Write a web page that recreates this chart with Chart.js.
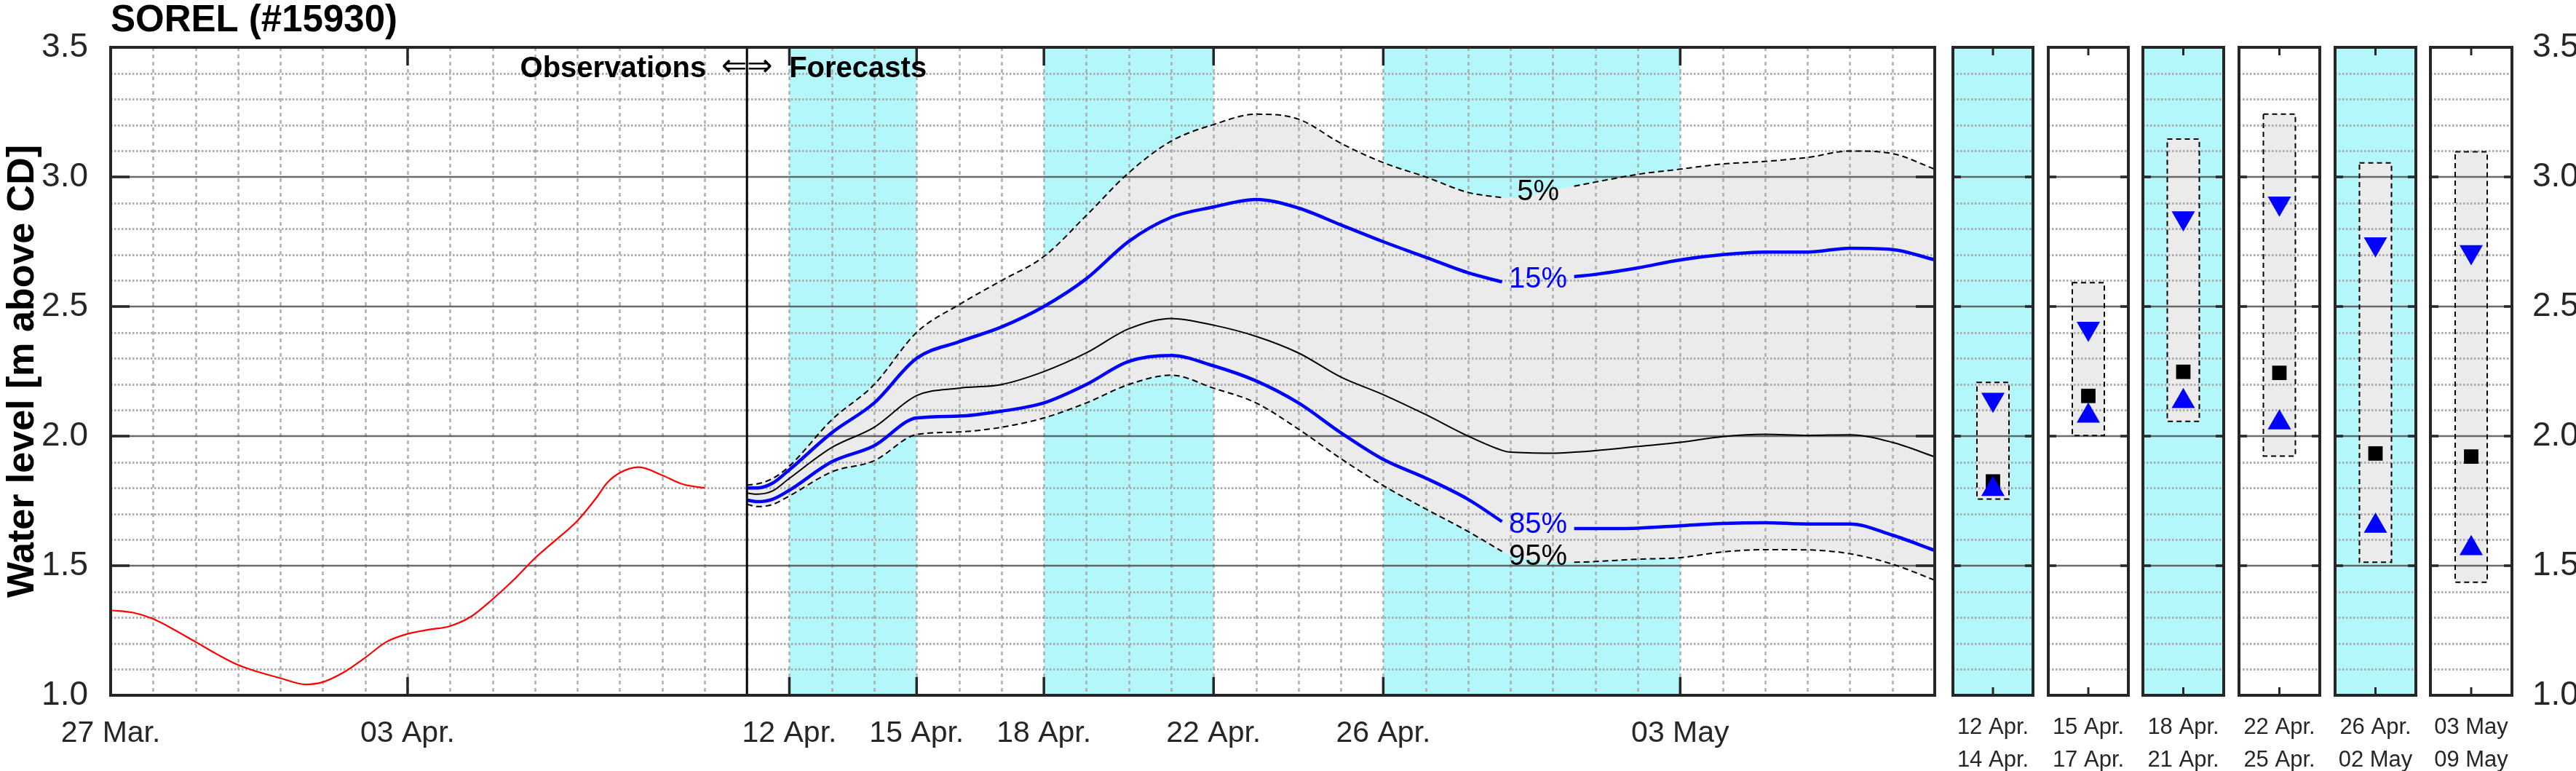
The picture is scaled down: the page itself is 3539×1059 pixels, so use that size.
<!DOCTYPE html>
<html>
<head>
<meta charset="utf-8">
<script src="https://cdn.jsdelivr.net/npm/chart.js@4.4.1/dist/chart.umd.min.js"></script>
<style>
html,body{margin:0;padding:0;background:#fff;}
#wrap{position:relative;width:3539px;height:1059px;overflow:hidden;background:#fff;}
#wrap canvas{position:absolute;left:0;top:0;}
</style>
</head>
<body>
<div id="wrap">
<canvas id="main" width="3539" height="1059"></canvas>
<canvas id="p0" width="3539" height="1059"></canvas>
<canvas id="p1" width="3539" height="1059"></canvas>
<canvas id="p2" width="3539" height="1059"></canvas>
<canvas id="p3" width="3539" height="1059"></canvas>
<canvas id="p4" width="3539" height="1059"></canvas>
<canvas id="p5" width="3539" height="1059"></canvas>
</div>
<script>
// ---------------- DATA ----------------
const stationTitle = 'SOREL (#15930)';
const yAxisTitle = 'Water level [m above CD]';
const obsText = 'Observations';
const arrowText = '\u21D0\u21D2';
const fcText = 'Forecasts';

// x axis: days since 27 Mar.
const tickDays   = [0, 7, 16, 19, 22, 26, 30, 37];
const tickLabels = ['27 Mar.', '03 Apr.', '12 Apr.', '15 Apr.', '18 Apr.', '22 Apr.', '26 Apr.', '03 May'];
const dayMin = 0, dayMax = 43;
const forecastStartDay = 15;
const cyanBands = [[16, 19], [22, 26], [30, 37]];

// observations (red)
const obsDays   = [0,0.55,1,1.5,2,2.5,3,3.5,4,4.6,5,5.5,6,6.5,7,7.5,8,8.5,9,9.5,10,10.5,11,11.45,11.7,12,12.45,13,13.5,14];
const obsLevels = [1.328,1.318,1.295,1.253,1.206,1.159,1.117,1.089,1.066,1.042,1.051,1.089,1.145,1.206,1.237,1.253,1.267,1.304,1.370,1.445,1.529,1.600,1.673,1.762,1.819,1.858,1.880,1.849,1.814,1.800];

// forecast percentiles
const fcDays = [15,15.25,15.6,16,17,18,19,20,21,22,23,24,25,26,27,28,29,30,31,32,32.8,33,34,34.5,35,36,37,38,39,40,41,42,43];
const fc05 = [1.811,1.816,1.836,1.884,2.063,2.199,2.40,2.507,2.60,2.693,2.851,3.016,3.138,3.202,3.242,3.223,3.13,3.055,3.0,2.94,2.92,2.918,2.95,2.964,2.98,3.01,3.03,3.05,3.06,3.075,3.10,3.09,3.03];
const fc15 = [1.80,1.80,1.818,1.87,2.013,2.128,2.30,2.364,2.421,2.50,2.607,2.751,2.844,2.884,2.913,2.88,2.815,2.75,2.69,2.63,2.595,2.59,2.605,2.615,2.624,2.649,2.68,2.70,2.71,2.71,2.725,2.72,2.68];
const fc50 = [1.78,1.776,1.788,1.837,1.956,2.034,2.156,2.185,2.199,2.249,2.321,2.414,2.454,2.428,2.385,2.321,2.228,2.16,2.083,2.00,1.945,1.938,1.934,1.938,1.944,1.96,1.976,1.998,2.007,2.003,2.005,1.976,1.92];
const fc85 = [1.753,1.747,1.756,1.791,1.901,1.963,2.07,2.077,2.096,2.128,2.199,2.288,2.311,2.271,2.213,2.128,2.013,1.91,1.838,1.756,1.67,1.662,1.646,1.643,1.643,1.645,1.654,1.663,1.666,1.661,1.661,1.618,1.559];
const fc95 = [1.737,1.728,1.736,1.769,1.862,1.905,2.006,2.016,2.034,2.07,2.128,2.199,2.235,2.185,2.128,2.027,1.913,1.809,1.719,1.632,1.555,1.543,1.514,1.513,1.516,1.525,1.531,1.553,1.562,1.561,1.546,1.506,1.444];
// inline percentile labels: line gap (days)
const labelGap = [32.8, 34.5];
const pctNames = ['5%', '15%', '85%', '95%'];

// period summary panels
const panelLabels = [['12 Apr.','14 Apr.'],['15 Apr.','17 Apr.'],['18 Apr.','21 Apr.'],['22 Apr.','25 Apr.'],['26 Apr.','02 May'],['03 May','09 May']];
const panelCyan = [true, false, true, false, true, false];
const pan05 = [2.207,2.592,3.146,3.242,3.054,3.097];
const pan15 = [2.141,2.415,2.841,2.898,2.741,2.711];
const pan50 = [1.825,2.155,2.248,2.244,1.933,1.921];
const pan85 = [1.795,2.078,2.134,2.052,1.653,1.567];
const pan95 = [1.757,2.002,2.057,1.923,1.513,1.436];

const yMin = 1.0, yMax = 3.5;

// ---------------- STYLE / LAYOUT ----------------
const W = 3539, H = 1059;
const PLOT_TOP = 65, PLOT_BOTTOM = 955, MAIN_LEFT = 152, MAIN_RIGHT = 2658;
const PANEL_LEFT  = [2683, 2814, 2944, 3076, 3208, 3339];
const PANEL_RIGHT = [2793, 2924, 3055, 3187, 3319, 3451];
const CYAN = 'rgb(179,247,250)';
const FILLGRAY = '#ebebeb';
const AXIS = '#262626';
const BLUE = '#0000ff';
const FONT = "'Liberation Sans', Arial, Helvetica, sans-serif";

function seg(ctx, x0, y0, x1, y1) { ctx.beginPath(); ctx.moveTo(x0, y0); ctx.lineTo(x1, y1); ctx.stroke(); }

function drawGrid(chart, withVertical) {
  const {ctx, chartArea: a, scales} = chart;
  const y = scales.y;
  ctx.save();
  ctx.beginPath(); ctx.rect(a.left, a.top, a.right - a.left, a.bottom - a.top); ctx.clip();
  ctx.strokeStyle = 'rgba(165,165,165,0.9)';
  if (withVertical) {
    const x = scales.x;
    ctx.lineWidth = 2.5; ctx.setLineDash([5, 5]);
    for (let d = x.min + 1; d < x.max; d++) {
      const px = Math.round(x.getPixelForValue(d)) + 0.5;
      seg(ctx, px, a.top, px, a.bottom);
    }
  }
  ctx.lineWidth = 3; ctx.setLineDash([2.5, 2.5]);
  for (let k = 11; k < 35; k++) {
    if (k % 5 === 0) continue;
    const py = Math.round(y.getPixelForValue(k / 10)) + 0.5;
    seg(ctx, a.left, py, a.right, py);
  }
  ctx.setLineDash([]);
  ctx.strokeStyle = 'rgba(70,70,70,0.8)'; ctx.lineWidth = 2.5;
  for (let k = 15; k < 35; k += 5) {
    const py = Math.round(y.getPixelForValue(k / 10));
    seg(ctx, a.left, py, a.right, py);
  }
  ctx.restore();
}

function drawBoxAndYTicks(chart, tickLen) {
  const {ctx, chartArea: a, scales: {y}} = chart;
  ctx.save();
  ctx.strokeStyle = AXIS; ctx.lineWidth = 3.5;
  for (let k = 15; k < 35; k += 5) {
    const py = y.getPixelForValue(k / 10);
    seg(ctx, a.left, py, a.left + tickLen, py);
    seg(ctx, a.right - tickLen, py, a.right, py);
  }
  ctx.lineWidth = 4;
  ctx.strokeRect(a.left, a.top, a.right - a.left, a.bottom - a.top);
  ctx.restore();
}

function pts(days, vals, gap) {
  return days.map((d, i) => ({x: d, y: (gap && d > labelGap[0] && d < labelGap[1]) ? null : vals[i]}));
}

// ---------------- MAIN CHART ----------------
const mainDeco = {
  id: 'mainDeco',
  beforeDatasetsDraw(chart) {
    const {ctx, chartArea: a, scales: {x}} = chart;
    ctx.save();
    ctx.fillStyle = CYAN;
    for (const [d0, d1] of cyanBands) {
      const x0 = x.getPixelForValue(d0), x1 = x.getPixelForValue(d1);
      ctx.fillRect(x0, a.top, x1 - x0, a.bottom - a.top);
    }
    ctx.restore();
  },
  afterDatasetDraw(chart, args) {
    if (args.index === 0) drawGrid(chart, true);
  },
  afterDatasetsDraw(chart) {
    const {ctx, chartArea: a, scales: {x, y}} = chart;
    ctx.save();
    const xb = x.getPixelForValue(forecastStartDay);
    ctx.strokeStyle = '#000'; ctx.lineWidth = 3;
    seg(ctx, xb, a.top, xb, a.bottom);
    ctx.strokeStyle = AXIS; ctx.lineWidth = 3.5;
    tickDays.forEach(d => {
      const px = x.getPixelForValue(d);
      seg(ctx, px, a.top, px, a.top + 25);
      seg(ctx, px, a.bottom - 25, px, a.bottom);
    });
    ctx.restore();
    drawBoxAndYTicks(chart, 26);

    ctx.save();
    const series = [fc05, fc15, fc85, fc95];
    const colors = ['#000', BLUE, BLUE, '#000'];
    const i0 = fcDays.indexOf(labelGap[0]), i1 = fcDays.indexOf(labelGap[1]);
    const lx = x.getPixelForValue((labelGap[0] + labelGap[1]) / 2);
    ctx.font = `40px ${FONT}`; ctx.textAlign = 'center'; ctx.textBaseline = 'middle';
    series.forEach((s, k) => {
      const ly = y.getPixelForValue((s[i0] + s[i1]) / 2);
      ctx.fillStyle = colors[k];
      ctx.fillText(pctNames[k], lx, ly);
    });
    ctx.fillStyle = '#000'; ctx.textBaseline = 'alphabetic';
    ctx.font = `bold 40px ${FONT}`;
    ctx.textAlign = 'right'; ctx.fillText(obsText, xb - 56, 106);
    ctx.textAlign = 'left'; ctx.fillText(fcText, xb + 58, 106);
    ctx.font = `42px 'DejaVu Sans', ${FONT}`;
    ctx.textAlign = 'center'; ctx.fillText(arrowText, xb, 104);
    ctx.font = `bold 51px ${FONT}`; ctx.textAlign = 'left';
    ctx.fillText(stationTitle, a.left, 43);
    ctx.restore();
  }
};

const lineBase = {pointRadius: 0, fill: false, cubicInterpolationMode: 'monotone'};
new Chart(document.getElementById('main'), {
  type: 'line',
  data: {datasets: [
    {...lineBase, label: 'band', data: pts(fcDays, fc05), borderColor: 'rgba(0,0,0,0)', backgroundColor: FILLGRAY, fill: '+1', order: 11},
    {...lineBase, label: 'bandLow', data: pts(fcDays, fc95), borderColor: 'rgba(0,0,0,0)', order: 12},
    {...lineBase, label: 'Observations', data: pts(obsDays, obsLevels), borderColor: '#ff0000', borderWidth: 2.2, order: 5},
    {...lineBase, label: '5%', data: pts(fcDays, fc05, true), borderColor: '#000', borderWidth: 2, borderDash: [8, 5], order: 4},
    {...lineBase, label: '95%', data: pts(fcDays, fc95, true), borderColor: '#000', borderWidth: 2, borderDash: [8, 5], order: 4},
    {...lineBase, label: '50%', data: pts(fcDays, fc50), borderColor: '#000', borderWidth: 2, order: 3},
    {...lineBase, label: '15%', data: pts(fcDays, fc15, true), borderColor: BLUE, borderWidth: 4.5, order: 1},
    {...lineBase, label: '85%', data: pts(fcDays, fc85, true), borderColor: BLUE, borderWidth: 4.5, order: 1}
  ]},
  options: {
    responsive: false, animation: false, devicePixelRatio: 1,
    layout: {padding: {left: 0, right: W - MAIN_RIGHT, top: PLOT_TOP, bottom: 0}},
    plugins: {legend: {display: false}, tooltip: {enabled: false}},
    scales: {
      x: {
        type: 'linear', min: dayMin, max: dayMax,
        grid: {display: false}, border: {display: false},
        afterBuildTicks: s => { s.ticks = tickDays.map(v => ({value: v})); },
        afterFit: s => { s.height = H - PLOT_BOTTOM; },
        ticks: {autoSkip: false, maxRotation: 0, minRotation: 0, padding: 20, color: AXIS,
                font: {family: FONT, size: 41}, callback: (v, i) => tickLabels[i]}
      },
      y: {
        min: yMin, max: yMax,
        grid: {display: false}, border: {display: false},
        afterFit: s => { s.width = MAIN_LEFT; },
        ticks: {stepSize: 0.5, padding: 23, color: AXIS, font: {family: FONT, size: 46},
                callback: v => Number(v).toFixed(1)},
        title: {display: true, text: yAxisTitle, color: '#000', padding: 0,
                font: {family: FONT, size: 52, weight: 'bold'}}
      }
    }
  },
  plugins: [mainDeco]
});

// ---------------- PANELS ----------------
const panelDeco = {
  id: 'panelDeco',
  beforeDatasetsDraw(chart, args, opts) {
    if (!opts.cyan) return;
    const {ctx, chartArea: a} = chart;
    ctx.save(); ctx.fillStyle = CYAN;
    ctx.fillRect(a.left, a.top, a.right - a.left, a.bottom - a.top);
    ctx.restore();
  },
  afterDatasetDraw(chart, args) {
    if (args.index !== 0) return;
    drawGrid(chart, false);
    const {ctx} = chart;
    const bar = args.meta.data[0];
    const top = Math.min(bar.y, bar.base), h = Math.abs(bar.base - bar.y);
    ctx.save();
    ctx.strokeStyle = '#000'; ctx.lineWidth = 2; ctx.setLineDash([7, 5]);
    ctx.strokeRect(bar.x - bar.width / 2, top, bar.width, h);
    ctx.restore();
  },
  afterDatasetsDraw(chart) {
    const {ctx, chartArea: a} = chart;
    ctx.save();
    ctx.strokeStyle = AXIS; ctx.lineWidth = 3;
    const cx = (a.left + a.right) / 2;
    seg(ctx, cx, a.top, cx, a.top + 11);
    seg(ctx, cx, a.bottom - 11, cx, a.bottom);
    ctx.restore();
    drawBoxAndYTicks(chart, 11);
  }
};

panelLabels.forEach((lab, i) => {
  const last = i === panelLabels.length - 1;
  new Chart(document.getElementById('p' + i), {
    type: 'bar',
    data: {labels: [lab], datasets: [
      {type: 'bar', label: '5-95%', data: [[pan95[i], pan05[i]]], backgroundColor: FILLGRAY, borderWidth: 0, barThickness: 44, order: 10},
      {type: 'line', label: '15%', data: [pan15[i]], showLine: false, pointStyle: 'triangle', pointRotation: 180,
       pointRadius: 18.5, pointBackgroundColor: BLUE, pointBorderWidth: 0, order: 1},
      {type: 'line', label: '85%', data: [pan85[i]], showLine: false, pointStyle: 'triangle', pointRotation: 0,
       pointRadius: 18.5, pointBackgroundColor: BLUE, pointBorderWidth: 0, order: 1},
      {type: 'line', label: '50%', data: [pan50[i]], showLine: false, pointStyle: 'rect',
       pointRadius: 14, pointBackgroundColor: '#000', pointBorderWidth: 0, order: 2}
    ]},
    options: {
      responsive: false, animation: false, devicePixelRatio: 1,
      layout: {padding: {left: PANEL_LEFT[i], right: last ? 0 : W - PANEL_RIGHT[i], top: PLOT_TOP, bottom: 0}},
      plugins: {legend: {display: false}, tooltip: {enabled: false}, panelDeco: {cyan: panelCyan[i]}},
      scales: {
        x: {
          grid: {display: false}, border: {display: false},
          afterFit: s => { s.height = H - PLOT_BOTTOM; },
          ticks: {maxRotation: 0, minRotation: 0, autoSkip: false, padding: 14, color: AXIS,
                  font: {family: FONT, size: 31, lineHeight: 1.45}}
        },
        y: {
          min: yMin, max: yMax, display: last, position: 'right',
          grid: {display: false}, border: {display: false},
          afterFit: s => { if (last) s.width = W - PANEL_RIGHT[i]; else s.width = 0; },
          ticks: {stepSize: 0.5, padding: 20, color: AXIS, font: {family: FONT, size: 46},
                  callback: v => Number(v).toFixed(1)}
        }
      }
    },
    plugins: [panelDeco]
  });
});
</script>
</body>
</html>
